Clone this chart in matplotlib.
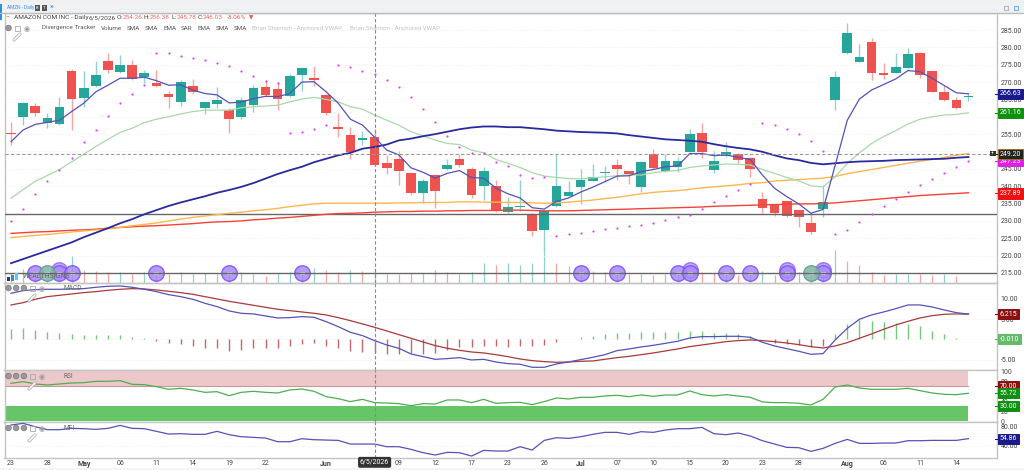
import matplotlib
matplotlib.use("Agg")
import matplotlib.pyplot as plt
from matplotlib.patches import Rectangle, Circle

plt.rcParams['font.family'] = ['Roboto', 'DejaVu Sans']

# bars, oldest first
opens = [255.3,260.0,263.2,258.3,257.8,273.2,265.3,268.9,276.1,272.8,274.9,271.4,269.8,266.7,264.3,269.0,262.4,263.7,261.9,259.8,
         263.4,268.5,267.9,266.0,272.1,271.3,266.2,257.1,254.7,253.3,254.26,246.6,247.7,243.7,238.0,243.1,245.0,247.9,245.0,240.0,
         240.0,232.6,233.9,232.0,227.5,234.2,237.3,239.8,241.6,243.8,246.0,244.3,239.9,249.3,244.3,245.6,249.9,255.4,244.8,248.8,
         249.3,248.2,236.3,234.6,235.6,233.0,229.3,233.3,264.8,278.3,275.9,281.4,272.7,272.7,274.0,278.3,273.2,267.1,264.8,265.8]
highs = [258.6,264.3,264.1,261.0,265.8,273.8,273.3,276.1,278.3,277.8,276.5,273.5,273.5,267.5,270.6,270.8,264.3,268.7,262.4,265.6,
         269.1,270.5,270.1,272.3,274.4,274.7,266.6,261.0,257.0,256.0,256.38,249.0,250.2,243.7,242.2,243.1,247.7,249.4,245.6,245.6,
         241.8,236.9,241.8,232.2,232.9,249.3,241.6,245.0,246.5,245.9,247.7,244.5,247.3,250.7,249.3,248.5,256.4,258.1,250.2,252.8,
         249.5,248.5,238.2,234.6,235.8,233.0,232.2,240.3,273.2,286.9,280.9,282.6,275.4,278.3,279.9,278.6,273.2,269.1,265.6,266.8]
lows = [251.9,257.6,260.3,256.7,257.6,256.2,262.7,268.7,272.5,272.5,270.6,269.8,268.5,262.6,263.1,266.6,260.8,262.4,255.2,259.4,
        261.3,265.8,262.0,265.6,267.5,268.9,260.5,254.3,247.7,251.9,245.78,243.5,240.3,237.6,235.2,233.6,244.7,245.6,236.7,235.9,
        232.5,232.4,232.8,225.6,222.0,234.0,237.2,235.0,241.6,241.3,241.7,240.5,238.4,245.0,244.0,244.0,249.8,248.0,243.7,248.5,
        246.6,242.5,232.2,231.5,231.2,228.1,226.2,231.2,262.0,278.0,275.7,270.6,270.8,272.7,273.8,271.3,267.2,264.6,262.3,264.4]
closes = [255.1,263.9,261.0,259.7,262.9,265.0,268.2,272.0,273.5,274.9,271.0,272.7,268.8,265.7,270.0,267.1,264.2,264.8,259.3,264.8,
          268.3,266.3,265.2,271.7,274.0,270.6,261.2,256.5,249.9,253.9,246.03,245.2,244.3,238.1,241.6,238.6,246.1,246.0,237.6,244.3,
          232.8,234.1,234.2,227.0,232.9,240.0,238.4,241.8,242.6,244.1,245.0,243.6,247.0,245.1,247.2,247.3,254.9,249.8,247.2,249.9,
          247.5,245.0,233.6,232.2,231.4,231.2,226.7,235.5,271.6,284.0,277.3,272.5,272.1,274.4,278.1,272.1,267.2,264.9,262.6,266.0]

ema_fast = [252.8,256.2,257.8,258.4,259.0,261.5,263.9,267.2,269.1,271.1,271.1,271.4,270.4,269.1,269.2,267.7,266.7,266.3,264.0,264.2,
            265.2,265.9,265.8,266.7,270.0,270.1,267.2,263.9,259.3,257.6,254.1,250.4,249.0,245.3,244.0,242.3,243.7,244.5,242.5,242.3,
            239.5,237.8,236.6,233.8,233.4,235.6,236.6,238.3,239.7,241.3,242.9,243.0,244.2,244.8,245.6,245.8,249.4,249.4,248.8,249.0,
            248.3,247.7,243.2,239.4,237.0,234.9,232.2,233.3,246.0,259.0,265.1,267.7,269.3,270.9,273.3,273.0,271.1,269.0,266.9,266.63]
sma_mid = [236.5,239.0,241.4,243.1,244.8,247.0,249.2,251.4,253.5,255.5,256.7,258.3,259.3,260.0,260.8,261.5,261.9,261.9,261.9,262.6,
           262.9,263.1,263.3,264.3,265.1,265.6,265.0,264.3,262.9,262.2,260.5,259.0,257.6,255.7,254.5,253.3,252.3,252.0,250.4,249.6,
           247.7,246.6,245.4,243.9,242.9,242.5,242.2,242.1,242.4,242.7,243.0,243.3,243.2,243.9,244.3,244.5,245.4,245.8,246.1,246.4,
           246.3,246.1,244.8,243.7,242.5,241.5,240.1,239.8,242.7,246.5,249.6,252.3,254.3,256.0,257.9,259.3,260.0,260.5,260.7,261.16]
ema_slow = [217.8,219.0,220.2,221.4,222.6,223.8,225.3,226.6,227.9,229.3,230.5,231.9,233.1,234.3,235.3,236.2,237.1,238.1,238.9,239.8,
            240.9,242.2,243.5,244.6,245.6,246.9,247.9,248.9,249.6,250.8,251.3,252.0,253.2,253.7,254.4,255.0,255.7,256.4,256.9,257.2,
            257.2,257.0,257.0,256.7,256.4,256.0,255.8,255.6,255.5,255.4,255.2,254.7,254.3,253.9,253.5,253.3,253.1,252.8,252.1,251.5,
            251.0,250.6,249.9,248.9,248.0,247.5,246.7,246.3,246.6,246.9,247.1,247.2,247.3,247.5,247.6,247.7,247.8,247.9,248.2,248.4]
sma_orange = [225.2,225.5,225.8,226.1,226.4,226.8,227.1,227.4,227.7,228.1,228.6,229.0,229.4,230.0,230.5,231.0,231.4,231.8,232.2,232.5,
              232.9,233.2,233.6,234.1,234.5,234.9,235.1,235.1,235.1,235.1,235.1,235.1,235.2,235.2,235.3,235.3,235.3,235.5,235.5,235.4,
              235.4,235.3,235.3,235.2,235.1,235.2,235.4,235.7,236.0,236.4,236.8,237.3,237.8,238.2,238.5,238.7,239.1,239.5,239.8,240.1,
              240.4,240.8,241.0,241.5,241.7,241.9,242.1,242.3,242.8,243.6,244.2,244.8,245.4,246.0,246.6,247.2,247.7,248.3,248.9,249.4]
sma_red = [226.4,226.6,226.8,226.9,227.1,227.3,227.4,227.6,227.9,228.1,228.3,228.5,228.6,228.8,229.0,229.2,229.5,229.7,229.8,230.0,
           230.3,230.5,230.8,231.0,231.3,231.6,231.9,232.1,232.2,232.3,232.5,232.6,232.7,232.7,232.8,232.8,232.9,232.9,233.0,233.0,
           233.0,233.1,233.1,233.0,232.9,232.9,232.9,233.0,233.1,233.2,233.3,233.4,233.5,233.6,233.7,233.8,233.9,234.0,234.2,234.3,
           234.4,234.5,234.6,234.7,234.8,234.9,234.9,235.0,235.2,235.5,235.8,236.1,236.4,236.7,237.0,237.3,237.5,237.7,237.89,238.1]
sar = [230.1,233.4,237.7,241.5,244.7,248.2,252.8,256.3,260.2,263.9,266.7,269.1,278.5,278.3,277.6,276.8,276.5,275.6,274.7,273.3,
       271.8,270.3,269.8,255.4,255.6,256.5,257.5,274.9,274.4,273.3,272.3,270.7,268.5,265.8,262.3,258.5,254.5,251.2,249.6,249.6,
       247.1,245.9,243.1,242.4,242.5,225.6,226.2,226.5,227.1,227.6,228.0,228.5,228.9,229.3,230.2,231.0,231.8,233.3,235.3,237.1,
       238.8,240.5,258.1,257.6,256.6,254.9,252.9,250.2,226.2,227.3,229.7,232.0,234.2,236.3,238.3,240.2,242.2,243.9,245.6,247.23]

volume = [30,42,35,30,35,80,39,37,34,34,27,32,30,27,32,27,30,27,30,32,
          27,22,29,32,30,44,40,34,40,35,45,27,27,30,29,40,32,27,34,60,
          54,59,55,61,110,61,52,45,37,32,30,27,27,25,28,30,30,34,30,28,
          24,30,35,25,30,32,30,62,100,67,55,34,24,27,27,26,23,26,22,1]
# u/d per bar: the volume colours do not always follow the candle colours
vol_side = ("duduuudddu" "dudduuuudu" "uduuuuddud" "udddudduuu"
            "duuuuddudd" "dduduuuddu" "duudduuuud" "ddduuddudd")
event_idx = [2, 4, 5, 12, 18, 24, 47, 50, 55, 56, 59, 61, 64, 67]
event_idx_hi = [4, 56, 64, 67]
event_idx_teal = [3, 66]

macd = [11.36,12.02,12.26,12.35,12.35,12.43,12.51,12.84,13.09,13.17,12.84,12.35,11.77,11.03,10.53,9.88,8.89,8.07,7.0,6.42,
        6.26,5.76,5.27,5.35,5.6,5.43,4.36,3.13,1.73,0.91,-0.33,-1.4,-2.22,-3.62,-4.28,-4.94,-4.77,-4.53,-5.1,-4.94,
        -5.6,-6.01,-6.17,-6.91,-6.91,-6.09,-5.6,-5.02,-4.44,-3.79,-2.8,-2.39,-1.89,-1.48,-0.99,-0.49,0.33,0.66,0.66,0.74,
        0.74,0.49,-0.74,-1.65,-2.3,-2.96,-3.7,-3.54,-0.16,2.72,4.94,6.01,6.75,7.57,8.48,8.48,7.98,7.24,6.58,6.22]
signal = [8.48,9.05,9.88,10.53,10.86,11.19,11.52,11.77,12.1,12.35,12.51,12.43,12.18,11.85,11.52,11.11,10.53,9.96,9.38,8.89,
          8.4,7.9,7.41,7.08,6.75,6.42,6.01,5.35,4.61,3.79,2.96,2.06,1.15,0.25,-0.66,-1.56,-2.22,-2.72,-3.13,-3.37,
          -3.79,-4.28,-4.86,-5.27,-5.51,-5.68,-5.6,-5.43,-5.35,-4.94,-4.53,-4.2,-3.79,-3.37,-2.88,-2.39,-1.81,-1.4,-0.99,-0.58,
          -0.33,-0.16,-0.33,-0.58,-0.91,-1.32,-1.81,-2.14,-1.65,-0.82,0.25,1.32,2.47,3.54,4.44,5.27,5.84,6.17,6.26,6.215]
macd_hist = [2.47,2.7,2.3,1.9,1.5,1.3,1.15,1.15,1.07,1.07,0.58,0.25,-0.41,-1.0,-1.23,-1.56,-2.06,-2.22,-2.8,-2.55,
             -2.22,-2.14,-2.06,-1.56,-1.15,-1.0,-1.56,-2.14,-2.88,-3.05,-3.37,-3.7,-3.62,-3.46,-3.54,-3.37,-2.63,-1.98,-1.98,-1.56,
             -1.65,-1.81,-1.56,-1.65,-1.4,-0.58,0.0,0.5,0.9,1.3,1.65,1.56,1.9,1.8,1.8,1.8,2.14,2.0,1.65,1.5,
             1.2,0.8,0.0,-1.0,-1.23,-1.48,-1.81,-1.65,1.23,3.7,4.77,4.6,4.28,3.95,3.79,3.29,2.14,1.32,0.41,-0.01]

rsi = [75.5,78.8,74.2,72.2,74.2,76.2,76.8,79.5,79.5,80.8,73.5,72.8,68.9,63.6,65.6,62.3,57.6,58.9,51.0,57.6,
       59.6,57.6,56.3,62.3,64.2,59.6,49.0,45.0,39.1,43.7,37.1,36.4,35.1,31.1,35.1,34.4,42.4,42.4,37.1,43.7,
       35.8,37.1,37.7,33.1,39.1,46.4,44.4,47.7,47.7,50.3,51.7,49.0,52.3,49.7,52.3,52.3,60.3,53.0,50.3,53.0,
       50.3,47.7,38.4,37.1,37.1,35.8,32.5,43.7,68.2,72.2,66.2,63.6,63.6,63.6,65.6,60.9,56.3,53.6,53.0,55.72]
mfi = [83.5,87.0,80.0,73.7,73.7,76.5,75.8,74.4,76.5,82.8,76.5,75.8,70.2,64.6,65.3,63.9,63.9,70.2,63.2,58.9,
       57.5,56.1,48.4,48.4,54.7,52.6,51.9,51.2,43.5,43.5,43.5,37.9,37.9,32.3,25.3,20.4,26.0,25.3,18.2,30.2,
       28.8,28.8,37.9,30.9,51.2,56.8,55.4,58.9,63.9,68.1,68.1,63.9,69.5,68.1,73.0,75.8,75.8,78.6,65.3,63.2,
       66.7,60.4,50.5,43.5,36.5,35.8,28.1,34.4,44.9,53.3,44.9,44.9,45.6,45.6,50.5,50.5,51.2,51.2,51.2,54.86]

date_pos = [0,3,6,9,12,15,18,21,26,32,35,38,41,44,47,50,53,56,59,62,65,69,72,75,78]
date_labels = ["23","28","May","06","11","14","19","22","Jun","09","12","17","23","26","Jul","07","10","15","20","23","28","Aug","06","11","14"]
price_ticks = [215,220,225,230,235,240,245,250,255,260,265,270,275,280,285]
macd_ticks = [10,5,0,-5]
macd_tick_labels = ["10.00","5.00","0","-5.00"]
rsi_ticks = [100,80,40,20,0]
mfi_ticks = [80,60,40]
mfi_tick_labels = ["80.00","60.00","40.00"]
cross_idx = 30
cross_price = 249.2
levels = [232.0, 215.0]

UP = "#26a69a"
DOWN = "#ef5350"
UP_W = "#8fd3cc"
DOWN_W = "#f6a5a3"
GRID = "#eeeeee"
TXT = "#444444"
FS = 5.0
W, H = 1024, 470
X0, X1 = 4.5, 997.0

fig = plt.figure(figsize=(W / 100, H / 100), dpi=100, facecolor="white")


def pane(top, bottom):
    ax = fig.add_axes([X0 / W, 1 - bottom / H, (X1 - X0) / W, (bottom - top) / H])
    ax.set_xlim((X0 - 11) / 12.12, (X1 - 11) / 12.12)
    ax.yaxis.tick_right()
    ax.set_xticks([])
    ax.tick_params(axis="y", length=0, labelsize=FS, labelcolor=TXT, pad=2.5)
    ax.grid(axis="y", color=GRID, lw=0.6, ls=":")
    ax.set_axisbelow(True)
    for s in ax.spines.values():
        s.set_color("#c4c4c4")
        s.set_linewidth(1)
    return ax


def tag(ax, value, text, color, edge=None):
    tr = ax.get_yaxis_transform()
    ax.plot([0.9975, 1.001], [value, value], color=color, lw=0.8, transform=tr, clip_on=False, zorder=29)
    ax.annotate(text, xy=(1.0028, value), xycoords=tr,
                fontsize=FS, color="white", va="center", ha="left", zorder=30, annotation_clip=False,
                bbox=dict(boxstyle="square,pad=0.22", fc=color, ec=edge or color, lw=0.7))


x = list(range(len(closes)))

# price pane
ax = pane(13, 283)
ax.set_ylim(212.1, 289.9)
ax.set_yticks(price_ticks)
ax.set_yticklabels(["%.2f" % p for p in price_ticks])
ax.set_zorder(3)
ax.patch.set_visible(False)

up = [c >= o for o, c in zip(opens, closes)]
ax.vlines(x, lows, highs, colors=[UP_W if u else DOWN_W for u in up], lw=1.0, zorder=3)
ax.bar(x, [abs(c - o) for o, c in zip(opens, closes)], bottom=[min(o, c) for o, c in zip(opens, closes)],
       width=0.8, color=[UP if u else DOWN for u in up], zorder=4)
for lv in levels:
    ax.axhline(lv, color="#666666", lw=1.0, zorder=5)
ax.plot(x, sma_red, color="#f44336", lw=1.0, zorder=6)
ax.plot(x, sma_orange, color="#ffb74d", lw=1.0, zorder=6)
ax.plot(x, sma_mid, color="#a9d8ab", lw=0.9, zorder=6)
ax.plot(x, ema_slow, color="#2a2a9f", lw=1.3, zorder=7)
ax.plot(x, ema_fast, color="#5552b8", lw=0.9, zorder=7)
ax.scatter(x, sar, s=2.5, color="#e040fb", zorder=7, linewidths=0)

# volume shares the price pane, the bars stand on its bottom edge
vol = fig.add_axes(ax.get_position(), zorder=2)
vol.set_xlim(ax.get_xlim())
vol.set_ylim(0, 810)
vol.axis("off")
vol.vlines(x, 0, volume, colors=[UP_W if s == "u" else DOWN_W for s in vol_side], lw=0.9, zorder=2)
vol.scatter(event_idx_hi, [38] * len(event_idx_hi), s=125, facecolor="#a78bf5", edgecolor="#7c4dff", linewidths=1, alpha=0.7, zorder=8)
vol.scatter(event_idx, [30] * len(event_idx), s=125, facecolor="#a78bf5", edgecolor="#7c4dff", linewidths=1, alpha=0.85, zorder=8)
vol.scatter(event_idx_teal, [30] * len(event_idx_teal), s=125, facecolor="#88b8ac", edgecolor="#5f9f90", linewidths=1, alpha=0.9, zorder=8)
vol.scatter(event_idx + event_idx_teal, [30] * (len(event_idx) + 2), s=14, marker="$\\infty$", color="#e8e0ff", linewidths=0, zorder=9)

tag(ax, 266.63, "266.63", "#1a1a8c")
tag(ax, 261.16, "261.16", "#109010")
tag(ax, 237.89, "237.89", "#f01010")
tag(ax, 247.23, "247.23", "#e020e0")
tag(ax, 249.2, "249.20", "#222222", edge="#a07020")

# macd pane
ax2 = pane(283, 370)
ax2.set_ylim(-7.58, 13.9)
ax2.set_yticks(macd_ticks)
ax2.set_yticklabels(macd_tick_labels)
ax2.vlines(x, 0, macd_hist, colors=["#77c77a" if h >= 0 else "#c26a6a" for h in macd_hist], lw=1.0, zorder=2)
ax2.plot(x, signal, color="#a83a3a", lw=0.9, zorder=3)
ax2.plot(x, macd, color="#5552b8", lw=0.9, zorder=4)
tag(ax2, 6.215, "6.215", "#8b1010")
tag(ax2, -0.01, "-0.010", "#66bb6a")

# rsi pane
ax3 = pane(370, 422)
ax3.set_ylim(-1.4, 102)
ax3.set_yticks(rsi_ticks)
ax3.grid(False)
ax3.fill_between([-0.6, x[-1]], 70, 100, color="#ecc8ca", lw=0)
ax3.plot([-0.6, x[-1]], [70, 70], color="#c79a9a", lw=0.8)
ax3.fill_between([-0.6, x[-1]], 0, 30, color="#66c566", lw=0)
ax3.plot(x, rsi, color="#4caf50", lw=0.9, zorder=4)
tag(ax3, 70, "70.00", "#8b1010")
tag(ax3, 55.72, "55.72", "#109010")
tag(ax3, 30, "30.00", "#109010")

# mfi pane
ax4 = pane(422, 458)
ax4.set_ylim(14.1, 89.9)
ax4.set_yticks(mfi_ticks)
ax4.set_yticklabels(mfi_tick_labels)
ax4.plot(x, mfi, color="#5552b8", lw=0.9, zorder=3)
tag(ax4, 54.86, "54.86", "#1a1a8c")
ax4.set_xticks(date_pos)
ax4.set_xticklabels(date_labels)
ax4.tick_params(axis="x", length=0, labelsize=FS, labelcolor=TXT, pad=1.2)
for t in ax4.get_xticklabels():
    if t.get_text() in ("May", "Jun", "Jul", "Aug"):
        t.set_fontweight("bold")
ax4.annotate("6/5/2026", xy=(cross_idx, -0.12), xycoords=ax4.get_xaxis_transform(), fontsize=FS, color="white",
             ha="center", va="center", annotation_clip=False, zorder=30,
             bbox=dict(boxstyle="round,pad=0.18", fc="#333333", ec="#333333"))

# crosshair runs through every pane
for a in (ax, ax2, ax3, ax4):
    a.axvline(cross_idx, color="#888888", lw=0.8, ls=(0, (3, 2)), zorder=12)
ax.axhline(cross_price, color="#999999", lw=0.8, ls=(0, (3, 2)), zorder=12)

# browser chrome and legend text, drawn in pixels on top of the panes
ui = fig.add_axes([0, 0, 1, 1], zorder=50)
ui.set_xlim(0, W)
ui.set_ylim(H, 0)
ui.axis("off")
ui.patch.set_alpha(0)
ui.add_patch(Rectangle((0, 0), W, 3, fc="#f0f0f0", ec="none"))
ui.add_patch(Rectangle((0, 3), W, 10, fc="#eff2f3", ec="none"))
ui.plot([0, W], [13.2, 13.2], color="#bbbbbb", lw=1)
ui.add_patch(Rectangle((0, 4), 2, 16, fc="#2f8fe6", ec="none"))
ui.add_patch(Rectangle((0, 467.5), W, 2.5, fc="#f4f4f4", ec="none"))
ui.text(7, 7.7, "AMZN - Daily", fontsize=3.4, color="#3f8fe0", va="center")
for bx, ch in ((37, "B"), (44, "T")):
    ui.add_patch(Rectangle((bx - 2.5, 5), 5, 5.5, fc="#555555", ec="none"))
    ui.text(bx, 7.8, ch, fontsize=3.0, color="white", ha="center", va="center")
ui.text(52, 7.7, "\u00d7", fontsize=5, color="#3f8fe0", ha="center", va="center")
for bx, c in ((1006, "#b5b5c5"), (1016, "#7fb0e8")):
    ui.add_patch(Rectangle((bx - 2, 6), 4, 4, fc="none", ec=c, lw=0.8))

HEAD = 4.65
ui.text(7, 17.8, "\u2212", fontsize=5, color="#ee6a60", va="center", ha="center")
ui.text(14, 17.8, "AMAZON COM INC - Daily", fontsize=HEAD, color="#444444", va="center")
ui.text(89, 17.8, "6/5/2026", fontsize=HEAD, color="#444444", va="center")
ui.text(117, 17.8, "O:", fontsize=HEAD, color="#444444", va="center")
ui.text(123, 17.8, "254.26", fontsize=HEAD, color="#ef6a60", va="center")
ui.text(144, 17.8, "H:", fontsize=HEAD, color="#444444", va="center")
ui.text(150, 17.8, "256.38", fontsize=HEAD, color="#ef6a60", va="center")
ui.text(172, 17.8, "L:", fontsize=HEAD, color="#444444", va="center")
ui.text(177, 17.8, "245.78", fontsize=HEAD, color="#ef6a60", va="center")
ui.text(198, 17.8, "C:", fontsize=HEAD, color="#444444", va="center")
ui.text(203, 17.8, "246.03", fontsize=HEAD, color="#ef6a60", va="center")
ui.text(227, 17.8, "-3.06%", fontsize=HEAD, color="#ef5350", va="center")
ui.text(251, 17.5, "\u25bc", fontsize=4, color="#ef5350", va="center", ha="center")

legend_dark = [("Divergence Tracker", 42), ("Volume", 101), ("SMA", 127), ("SMA", 145), ("EMA", 163),
               ("SAR", 181), ("EMA", 198), ("SMA", 216), ("SMA", 234)]
for name, px in legend_dark:
    ui.text(px, 28, name, fontsize=4.5, color="#555555", va="center")
ui.text(252, 28, "Brian Shannon - Anchored VWAP", fontsize=4.5, color="#c4c4c4", va="center")
ui.text(350, 28, "Brian Shannon - Anchored VWAP", fontsize=4.5, color="#c4c4c4", va="center")


def pencil(px, py):
    ui.plot([px - 3, px + 3], [py + 3, py - 3], color="#aaaaaa", lw=2.2, solid_capstyle="round")
    ui.plot([px - 3, px + 3], [py + 3, py - 3], color="white", lw=1.2, solid_capstyle="round")


def eye(px, py):
    ui.text(px, py, "\u25c9", fontsize=5, color="#999999", ha="center", va="center")


def icons(y):
    for i in range(3):
        ui.add_patch(Circle((8.5 + 7.7 * i, y), 2.8, fc="#999999", ec="#777777", lw=0.5))
    ui.add_patch(Rectangle((30, y - 2.5), 5, 5, fc="none", ec="#aaaaaa", lw=0.6))
    eye(41.7, y + 1.5)
    pencil(32, y + 10)


ui.add_patch(Circle((8.5, 28), 2.8, fc="#999999", ec="#777777", lw=0.5))
ui.add_patch(Rectangle((15, 25.5), 5, 5, fc="none", ec="#aaaaaa", lw=0.6))
eye(26.5, 29.5)
pencil(17, 37)
icons(288)
icons(376)
icons(428)
ui.text(64, 288.5, "MACD", fontsize=4.8, color="#666666", va="center")
ui.text(64, 376.5, "RSI", fontsize=4.8, color="#666666", va="center")
ui.text(64, 429, "MFI", fontsize=4.8, color="#666666", va="center")
ui.text(22.7, 276.5, "WEALTHSIGNS", fontsize=5, color="#666666", va="center")
for bx, by, bh, c in ((7, 277, 3.5, "#1d3f7a"), (11, 275, 5.5, "#2a8fd8"), (15, 273, 7, "#6cc3ee")):
    ui.add_patch(Rectangle((bx, by), 3.2, bh, fc=c, ec="none"))
# small marker box beside the crosshair price tag
ui.add_patch(Rectangle((990, 150.5), 5.5, 5.5, fc="#333333", ec="none"))
ui.text(992.7, 153.1, "+", fontsize=3.5, color="white", ha="center", va="center")

fig.savefig("out.png", dpi=100)
